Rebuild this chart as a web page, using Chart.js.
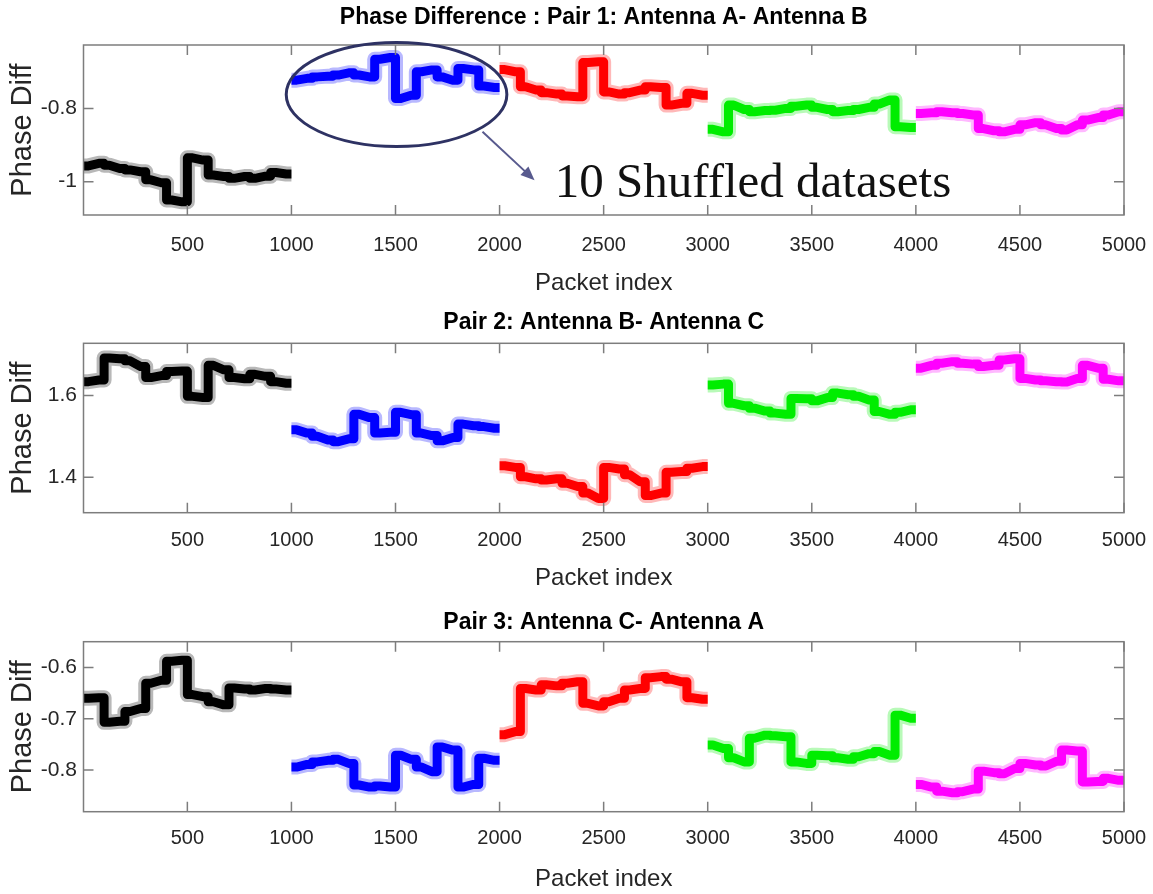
<!DOCTYPE html>
<html>
<head>
<meta charset="utf-8">
<title>Phase Difference</title>
<script src="https://cdn.jsdelivr.net/npm/chart.js@4.4.1/dist/chart.umd.min.js"></script>
<style>
  body { margin: 0; background: #fff; }
  #wrap { position: relative; width: 1153px; height: 894px; }
  canvas { position: absolute; left: 0; }
</style>
</head>
<body>
<div id="wrap">
  <canvas id="pair1" width="1153" height="300" style="top:0"></canvas>
  <canvas id="pair2" width="1153" height="300" style="top:300px"></canvas>
  <canvas id="pair3" width="1153" height="294" style="top:600px"></canvas>
</div>
<script>
// Niveles medios de la diferencia de fase, un valor cada 50 paquetes
// (cada color = 1000 paquetes, 10 datasets barajados de 100)
const blockSize = 50;
const segmentSize = 100;

const pair1Black   = [-0.957, -0.950, -0.955, -0.964, -0.968, -0.973, -0.995, -1.003, -1.050, -1.055, -0.935, -0.941, -0.982, -0.986, -0.991, -0.986, -0.991, -0.985, -0.975, -0.979];
const pair1Blue    = [-0.723, -0.718, -0.714, -0.712, -0.709, -0.703, -0.709, -0.714, -0.666, -0.661, -0.773, -0.764, -0.700, -0.695, -0.714, -0.723, -0.691, -0.695, -0.739, -0.743];
const pair1Red     = [-0.694, -0.700, -0.741, -0.750, -0.757, -0.761, -0.766, -0.768, -0.675, -0.673, -0.755, -0.761, -0.757, -0.750, -0.741, -0.743, -0.791, -0.786, -0.759, -0.764];
const pair1Green   = [-0.857, -0.864, -0.791, -0.803, -0.809, -0.806, -0.805, -0.800, -0.794, -0.791, -0.797, -0.803, -0.809, -0.806, -0.803, -0.797, -0.788, -0.777, -0.850, -0.852];
const pair1Magenta = [-0.814, -0.812, -0.809, -0.812, -0.814, -0.818, -0.855, -0.861, -0.864, -0.857, -0.845, -0.839, -0.845, -0.855, -0.859, -0.845, -0.832, -0.825, -0.818, -0.809];

const pair2Black   = [1.634, 1.638, 1.692, 1.690, 1.685, 1.671, 1.644, 1.649, 1.659, 1.660, 1.598, 1.595, 1.674, 1.663, 1.644, 1.641, 1.652, 1.647, 1.634, 1.630];
const pair2Blue    = [1.516, 1.508, 1.500, 1.491, 1.487, 1.494, 1.554, 1.546, 1.508, 1.510, 1.559, 1.553, 1.508, 1.502, 1.489, 1.497, 1.530, 1.526, 1.524, 1.520];
const pair2Red     = [1.428, 1.424, 1.401, 1.396, 1.393, 1.396, 1.385, 1.377, 1.361, 1.348, 1.424, 1.420, 1.406, 1.389, 1.355, 1.361, 1.412, 1.414, 1.422, 1.426];
const pair2Green   = [1.626, 1.628, 1.581, 1.575, 1.569, 1.562, 1.557, 1.554, 1.593, 1.592, 1.587, 1.595, 1.606, 1.602, 1.598, 1.589, 1.561, 1.554, 1.559, 1.565];
const pair2Magenta = [1.667, 1.674, 1.679, 1.683, 1.679, 1.677, 1.671, 1.674, 1.687, 1.690, 1.642, 1.638, 1.636, 1.634, 1.633, 1.642, 1.674, 1.667, 1.640, 1.636];

const pair3Black   = [-0.660, -0.659, -0.707, -0.705, -0.686, -0.680, -0.631, -0.625, -0.588, -0.586, -0.653, -0.657, -0.667, -0.673, -0.640, -0.642, -0.644, -0.641, -0.642, -0.644];
const pair3Blue    = [-0.794, -0.789, -0.784, -0.781, -0.779, -0.787, -0.829, -0.833, -0.831, -0.833, -0.771, -0.779, -0.794, -0.803, -0.755, -0.761, -0.833, -0.828, -0.777, -0.781];
const pair3Red     = [-0.731, -0.725, -0.641, -0.644, -0.634, -0.636, -0.631, -0.628, -0.670, -0.675, -0.667, -0.660, -0.644, -0.641, -0.620, -0.618, -0.623, -0.628, -0.659, -0.662];
const pair3Green   = [-0.751, -0.758, -0.776, -0.784, -0.738, -0.732, -0.733, -0.735, -0.784, -0.787, -0.771, -0.772, -0.776, -0.779, -0.774, -0.768, -0.764, -0.771, -0.693, -0.699];
const pair3Magenta = [-0.828, -0.833, -0.841, -0.844, -0.842, -0.837, -0.802, -0.805, -0.807, -0.797, -0.787, -0.790, -0.792, -0.783, -0.761, -0.763, -0.823, -0.822, -0.816, -0.820];

// Ejes
const xTicks = [500, 1000, 1500, 2000, 2500, 3000, 3500, 4000, 4500, 5000];
const yTicks1 = [-1, -0.8];
const yTicks2 = [1.4, 1.6];
const yTicks3 = [-0.8, -0.7, -0.6];

const colores = ['#000000', '#0000ff', '#ff0000', '#00ee00', '#ff00ff'];
const halos = ['rgba(0,0,0,0.28)', 'rgba(0,0,255,0.28)', 'rgba(255,0,0,0.28)', 'rgba(0,238,0,0.28)', 'rgba(255,0,255,0.28)'];

Chart.defaults.font.family = '"Liberation Sans", Arial, sans-serif';

// Cada valor va en el centro de su bloque; dentro de un dataset de 100
// paquetes se unen los dos bloques y entre datasets se salta en vertical
function puntosBloques(inicio, niveles) {
  const pts = [];
  niveles.forEach((v, i) => {
    const x0 = inicio + i * blockSize;
    if (x0 % segmentSize === 0) pts.push({ x: x0, y: v });
    pts.push({ x: x0 + blockSize / 2, y: v });
    if ((x0 + blockSize) % segmentSize === 0) pts.push({ x: x0 + blockSize, y: v });
  });
  return pts;
}

function crearDatasets(series) {
  const ds = [];
  series.forEach((niveles, k) => {
    const pts = puntosBloques(k * 1000, niveles);
    ds.push({ data: pts, borderColor: halos[k], borderWidth: 15 });
    ds.push({ data: pts, borderColor: colores[k], borderWidth: 9 });
  });
  return ds;
}

// Marco gris con marcas hacia dentro (estilo MATLAB)
const marcoEjes = {
  id: 'marcoEjes',
  afterDatasetsDraw(chart) {
    const { ctx, chartArea: a, scales: { x, y } } = chart;
    ctx.save();
    ctx.strokeStyle = '#7d7d7d';
    ctx.lineWidth = 1.5;
    ctx.strokeRect(a.left, a.top, a.right - a.left, a.bottom - a.top);
    ctx.beginPath();
    x.ticks.forEach(t => {
      const px = x.getPixelForValue(t.value);
      ctx.moveTo(px, a.bottom); ctx.lineTo(px, a.bottom - 10);
      ctx.moveTo(px, a.top); ctx.lineTo(px, a.top + 10);
    });
    y.ticks.forEach(t => {
      const py = y.getPixelForValue(t.value);
      ctx.moveTo(a.left, py); ctx.lineTo(a.left + 10, py);
      ctx.moveTo(a.right, py); ctx.lineTo(a.right - 10, py);
    });
    ctx.stroke();
    ctx.restore();
  }
};

// Elipse, flecha y texto sobre el primer gráfico
const notaShuffled = {
  id: 'notaShuffled',
  afterDraw(chart) {
    const { ctx, scales: { x, y } } = chart;
    const cx = x.getPixelForValue(1505), cy = y.getPixelForValue(-0.762);
    const rx = x.getPixelForValue(1505 + 530) - cx;
    const ry = y.getPixelForValue(-0.762 - 0.142) - cy;
    ctx.save();
    ctx.strokeStyle = '#2e3263';
    ctx.lineWidth = 3;
    ctx.beginPath();
    ctx.ellipse(cx, cy, rx, ry, 0, 0, Math.PI * 2);
    ctx.stroke();

    const x0 = x.getPixelForValue(1918), y0 = y.getPixelForValue(-0.864);
    const x1 = x.getPixelForValue(2168), y1 = y.getPixelForValue(-0.996);
    const ang = Math.atan2(y1 - y0, x1 - x0);
    ctx.strokeStyle = '#585a8e';
    ctx.fillStyle = '#585a8e';
    ctx.lineWidth = 2;
    ctx.beginPath();
    ctx.moveTo(x0, y0);
    ctx.lineTo(x1 - 10 * Math.cos(ang), y1 - 10 * Math.sin(ang));
    ctx.stroke();
    ctx.beginPath();
    ctx.moveTo(x1, y1);
    ctx.lineTo(x1 - 15 * Math.cos(ang - 0.4), y1 - 15 * Math.sin(ang - 0.4));
    ctx.lineTo(x1 - 15 * Math.cos(ang + 0.4), y1 - 15 * Math.sin(ang + 0.4));
    ctx.closePath();
    ctx.fill();

    ctx.fillStyle = '#111';
    ctx.font = '49px "Liberation Serif", "Times New Roman", serif';
    ctx.textBaseline = 'alphabetic';
    ctx.fillText('10 Shuffled datasets', x.getPixelForValue(2265), y.getPixelForValue(-1.041));
    ctx.restore();
  }
};

function crearGrafica(id, cfg) {
  const plugins = [marcoEjes];
  if (cfg.nota) plugins.push(notaShuffled);
  new Chart(document.getElementById(id), {
    type: 'line',
    data: { datasets: crearDatasets(cfg.series) },
    options: {
      responsive: false,
      animation: false,
      layout: { padding: { left: 0, right: 29, top: 0, bottom: 0 } },
      elements: {
        point: { radius: 0 },
        line: { tension: 0, borderJoinStyle: 'round', borderCapStyle: 'butt' }
      },
      plugins: {
        legend: { display: false },
        tooltip: { enabled: false },
        title: {
          display: true,
          fullSize: false,
          text: cfg.titulo,
          color: '#000',
          font: { size: 23, weight: 'bold' },
          padding: { top: cfg.tituloPad[0], bottom: cfg.tituloPad[1] }
        }
      },
      scales: {
        x: {
          type: 'linear',
          min: 1,
          max: 5000,
          afterBuildTicks: s => { s.ticks = xTicks.map(v => ({ value: v })); },
          afterFit: s => { s.height = cfg.altoX; s.paddingLeft = 0; s.paddingRight = 0; },
          grid: { display: false, drawTicks: false },
          border: { display: false },
          ticks: { padding: cfg.padTicksX, color: '#262626', font: { size: 20 }, maxRotation: 0, autoSkip: false, callback: v => String(v) },
          title: { display: true, text: 'Packet index', color: '#262626', font: { size: 24 }, padding: { top: 0, bottom: cfg.padTituloX } }
        },
        y: {
          type: 'linear',
          min: cfg.yMin,
          max: cfg.yMax,
          afterBuildTicks: s => { s.ticks = cfg.yTicks.map(v => ({ value: v })); },
          afterFit: s => { s.width = 83.5; s.paddingTop = 0; s.paddingBottom = 0; },
          grid: { display: false, drawTicks: false },
          border: { display: false },
          ticks: { padding: 6.5, color: '#262626', font: { size: 21 }, callback: v => String(+v.toFixed(2)) },
          title: { display: true, text: 'Phase Diff', color: '#262626', font: { size: 29 }, padding: { top: 6, bottom: 0 } }
        }
      }
    },
    plugins: plugins
  });
}

crearGrafica('pair1', {
  titulo: 'Phase Difference : Pair 1: Antenna A- Antenna B',
  series: [pair1Black, pair1Blue, pair1Red, pair1Green, pair1Magenta],
  yMin: -1.091, yMax: -0.627, yTicks: yTicks1,
  tituloPad: [4.2, 13.2], altoX: 85, padTicksX: 18, padTituloX: 2.6,
  nota: true
});

crearGrafica('pair2', {
  titulo: 'Pair 2: Antenna B- Antenna C',
  series: [pair2Black, pair2Blue, pair2Red, pair2Green, pair2Magenta],
  yMin: 1.313, yMax: 1.728, yTicks: yTicks2,
  tituloPad: [9.2, 6.5], altoX: 87.3, padTicksX: 15.3, padTituloX: 7.6
});

crearGrafica('pair3', {
  titulo: 'Pair 3: Antenna C- Antenna A',
  series: [pair3Black, pair3Blue, pair3Red, pair3Green, pair3Magenta],
  yMin: -0.881, yMax: -0.55, yTicks: yTicks3,
  tituloPad: [9.2, 4.9], altoX: 82.3, padTicksX: 14.3, padTituloX: 0
});
</script>
</body>
</html>
